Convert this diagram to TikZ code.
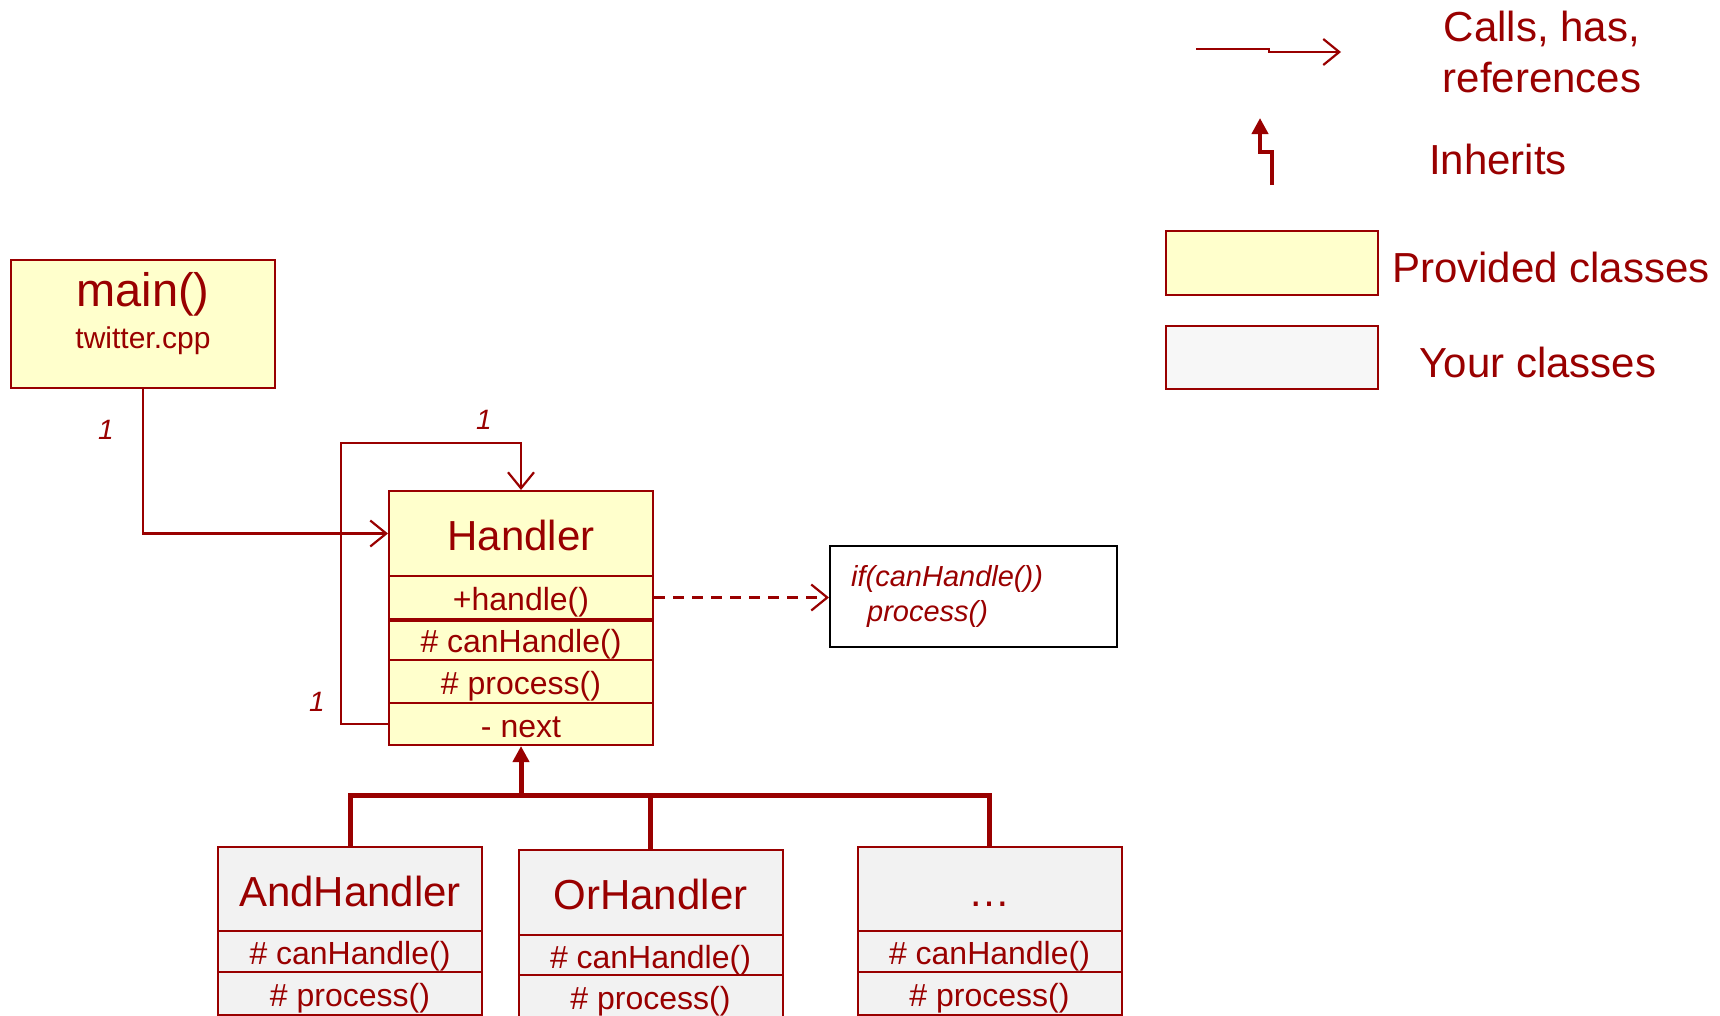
\documentclass[tikz,border=0pt]{standalone}
\usepackage{fontspec}
\setmainfont{Liberation Sans}
\usetikzlibrary{arrows.meta}
\definecolor{dred}{HTML}{990000}
\definecolor{provfill}{HTML}{FFFFCC}
\definecolor{yourfill}{HTML}{F2F2F2}
\definecolor{legyour}{HTML}{F7F7F7}
\tikzset{
  box/.style={draw=dred, line width=2pt, inner sep=0pt, minimum width=264pt, text=dred},
  prov/.style={box, fill=provfill},
  mine/.style={box, fill=yourfill},
  ttl/.style={font=\fontsize{42}{50}\selectfont, text height=34.5pt, text depth=0pt},
  row/.style={font=\fontsize{32}{38}\selectfont, text height=26pt, text depth=0pt},
  calls/.style={draw=dred, line width=2.2pt, -{Straight Barb[length=16pt,width=26pt]}},
  inh/.style={draw=dred, line width=5pt},
  inharrow/.style={inh, -{Triangle[length=16pt,width=16pt]}},
  lbl/.style={text=dred, inner sep=0pt},
  legtxt/.style={lbl, font=\fontsize{42}{50}\selectfont},
  mult/.style={lbl, font=\itshape\fontsize{28}{32}\selectfont},
  notetext/.style={lbl, anchor=west, font=\itshape\fontsize{29}{34}\selectfont},
}
\begin{document}
\begin{tikzpicture}[x=1pt,y=-1pt]
\clip (0,0) rectangle (1720,1015);
\fill[white] (0,0) rectangle (1720,1015);

% main box
\node[prov, minimum height=128pt] (mainbox) at (143,324) {};
\node[lbl, font=\fontsize{47}{56}\selectfont] (maintitle) at (143,294.5) {main()};
\node[lbl, font=\fontsize{30}{36}\selectfont] (mainfile) at (143,340.5) {twitter.cpp};

% Handler
\node[prov, ttl, minimum height=85pt] (ht) at (521,533.5) {Handler};
\node[prov, row, minimum height=43pt] (hh) at (521,597.5) {+handle()};
\node[prov, row, minimum height=41pt] (hc) at (521,639.5) {\# canHandle()};
\node[prov, row, minimum height=43pt] (hp) at (521,681.5) {\# process()};
\node[prov, row, minimum height=42pt] (hn) at (521,724) {- next};
\draw[dred, line width=3.5pt] (hh.south west) -- (hh.south east);

% note
\node[draw=black, line width=2pt, fill=white, minimum width=287pt, minimum height=101pt] (note) at (973.5,596.5) {};
\node[notetext] (notel1) at (851,578.5) {if(canHandle())};
\node[notetext] (notel2) at (867,613.5) {process()};
\draw[calls, dash pattern=on 11pt off 8pt] (hh.east) -- (hh.east -| note.west);

% associations
\draw[calls] (mainbox.south) |- (ht.west);
\coordinate (loop) at (341,443);
\draw[calls] (hn.west) -| (loop) -| (ht.north);
\node[mult] (m1) at (106,430) {1};
\node[mult] (m2) at (484,420) {1};
\node[mult] (m3) at (317,702) {1};

% subclasses
\node[mine, ttl, minimum height=84pt] (at) at (350,889) {AndHandler};
\node[mine, row, minimum height=41pt] (ac) at (350,951.5) {\# canHandle()};
\node[mine, row, minimum height=43pt] (ap) at (350,993.5) {\# process()};

\node[mine, ttl, minimum height=85pt] (ot) at (650.5,892.5) {OrHandler};
\node[mine, row, minimum height=40pt] (oc) at (650.5,955) {\# canHandle()};
\node[mine, row, minimum height=43pt] (op) at (650.5,996.5) {\# process()};

\node[mine, ttl, minimum height=84pt] (dt) at (989.5,889) {…};
\node[mine, row, minimum height=41pt] (dc) at (989.5,951.5) {\# canHandle()};
\node[mine, row, minimum height=43pt] (dp) at (989.5,993.5) {\# process()};

% inheritance
\coordinate (bus) at (521,795);
\draw[inh] (at.north) |- (bus) -| (dt.north);
\draw[inh] (ot.north) -- (ot.north |- bus);
\draw[inharrow] (bus) -- (hn.south);

% legend
\coordinate (c1) at (1196,49);
\coordinate (cmid) at (1269,50.5);
\coordinate (c2) at (1341,52);
\draw[calls] (c1) -| (cmid) |- (c2);
\node[legtxt, font=\fontsize{42}{51}\selectfont, align=center] (callstxt) at (1542,52) {Calls, has,\\references};

\coordinate (i1) at (1272,185);
\coordinate (imid) at (1266,152);
\coordinate (i2) at (1260,118);
\draw[inharrow, line width=4.5pt] (i1) |- (imid) -| (i2);
\node[legtxt] (inhtxt) at (1498,159) {Inherits};

\node[draw=dred, line width=2pt, fill=provfill, minimum width=212pt, minimum height=64pt] (legprov) at (1272,263) {};
\node[legtxt, anchor=west] (provtxt) at (1392,267) {Provided classes};
\node[draw=dred, line width=2pt, fill=legyour, minimum width=212pt, minimum height=63pt] (legyour) at (1272,357.5) {};
\node[legtxt] (yourtxt) at (1538,362) {Your classes};
\end{tikzpicture}
\end{document}
